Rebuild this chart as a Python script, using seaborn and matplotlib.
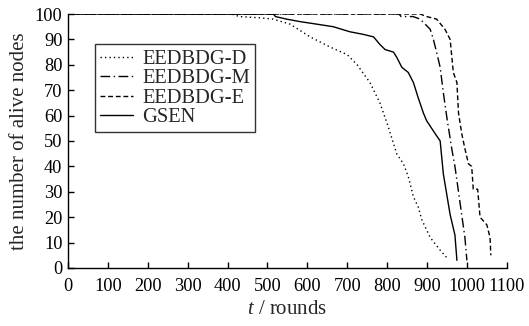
import numpy as np
import pandas as pd
import matplotlib
matplotlib.use("Agg")
import matplotlib.pyplot as plt
import seaborn as sns

# ---- data ----
d_rounds = [0, 410, 430, 481, 514, 557, 607, 657, 700, 725, 757, 782, 802, 824, 841, 853, 866, 878, 887, 908, 933, 950]
d_alive  = [100, 100, 99, 98.5, 98, 96, 91, 87, 84, 80, 73, 65, 56, 45, 41, 36, 28, 24, 19, 12, 7, 4]

m_rounds = [0, 830, 835, 865, 883, 908, 916, 924, 933, 941, 950, 962, 970, 979, 987, 995, 1000]
m_alive  = [100, 100, 99, 99, 98, 94, 90, 85, 79, 69, 59, 47, 40, 30, 21, 12, 3]

e_rounds = [0, 883, 899, 924, 945, 958, 966, 975, 979, 987, 995, 1004, 1012, 1016, 1027, 1033, 1050, 1058, 1060]
e_alive  = [100, 100, 99, 98, 94, 90, 77, 73, 61, 53, 47, 41, 40, 31, 31, 20, 17, 12, 5]

g_rounds = [0, 515, 520, 548, 582, 624, 665, 707, 740, 766, 782, 795, 816, 824, 837, 853, 866, 878, 891, 899, 920, 933, 941, 958, 970, 975]
g_alive  = [100, 100, 99, 98, 97, 96, 95, 93, 92, 91, 88, 86, 85, 83, 79, 77, 73, 67, 61, 58, 53, 50, 37, 21, 13, 3]

series_names = ["EEDBDG-D", "EEDBDG-M", "EEDBDG-E", "GSEN"]
x_ticks = list(range(0, 1101, 100))
y_ticks = list(range(0, 101, 10))

sns.set_theme(style="ticks")
plt.rcParams["font.family"] = ["Liberation Serif", "DejaVu Serif"]
plt.rcParams["mathtext.fontset"] = "custom"
plt.rcParams["mathtext.it"] = "Liberation Serif:italic"
plt.rcParams["mathtext.rm"] = "Liberation Serif"

fig = plt.figure(figsize=(5.29, 3.26), dpi=100)
ax = fig.add_axes([0.1285, 0.178, 0.8295, 0.779])

styles = [(0, (1, 2.2)), (0, (7, 2.5, 1, 2.5)), (0, (3.5, 2)), "-"]
data = [(d_rounds, d_alive), (m_rounds, m_alive), (e_rounds, e_alive), (g_rounds, g_alive)]
for name, (xr, ya), ls in zip(series_names, data, styles):
    df = pd.DataFrame({"t": xr, "alive": ya})
    sns.lineplot(data=df, x="t", y="alive", ax=ax, color="black", linewidth=1.0,
                 linestyle=ls, label=name, sort=False, estimator=None)

ax.set_xlim(0, 1100)
ax.set_ylim(0, 100)
ax.set_xticks(x_ticks)
ax.set_yticks(y_ticks)
ax.tick_params(direction="in", length=4, width=1, labelsize=13.2, colors="black")
ax.tick_params(axis="x", pad=7)
ax.tick_params(axis="y", pad=4)
for s in ["top", "right"]:
    ax.spines[s].set_visible(False)
for s in ["left", "bottom"]:
    ax.spines[s].set_color("black")
    ax.spines[s].set_linewidth(1.0)
ax.set_xlabel("$t$ / rounds", fontsize=15, labelpad=4)
ax.set_ylabel("the number of alive nodes", fontsize=15, labelpad=4)

leg = ax.legend(loc="upper left", bbox_to_anchor=(0.062, 0.88), borderaxespad=0,
                frameon=True, fancybox=False, fontsize=14.8, handlelength=1.6,
                handletextpad=0.45, labelspacing=0.0, borderpad=0.25)
leg.get_frame().set_edgecolor("black")
leg.get_frame().set_linewidth(1.0)

fig.savefig("out.png", dpi=100)
